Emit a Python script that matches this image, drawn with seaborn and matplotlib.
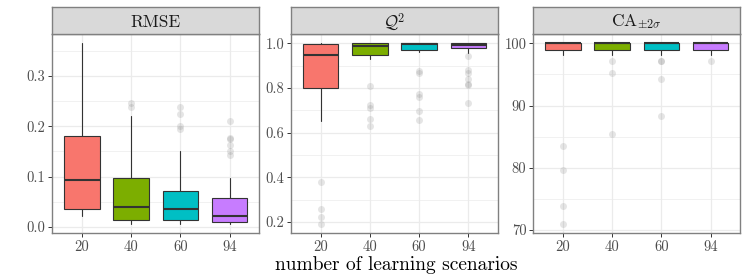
import numpy as np
import pandas as pd
import matplotlib
matplotlib.use("Agg")
import matplotlib.pyplot as plt
import seaborn as sns

# ---------------- data ----------------
categories = ["20", "40", "60", "94"]
palette = ["#F8766D", "#7CAE00", "#00BFC4", "#C77CFF"]

rmse_lo = [0.021, 0.005, 0.006, 0.005]
rmse_q1 = [0.035, 0.013, 0.013, 0.009]
rmse_med = [0.094, 0.040, 0.035, 0.021]
rmse_q3 = [0.181, 0.097, 0.071, 0.058]
rmse_hi = [0.365, 0.220, 0.151, 0.097]
rmse_out = {"20": [], "40": [0.238, 0.247],
            "60": [0.194, 0.201, 0.224, 0.239],
            "94": [0.143, 0.150, 0.162, 0.174, 0.176, 0.210]}

q2_lo = [0.653, 0.928, 0.960, 0.958]
q2_q1 = [0.801, 0.946, 0.970, 0.981]
q2_med = [0.948, 0.990, 0.997, 0.993]
q2_q3 = [0.996, 1.000, 1.000, 1.000]
q2_hi = [1.000, 1.000, 1.000, 1.000]
q2_out = {"20": [0.378, 0.258, 0.222, 0.190],
          "40": [0.809, 0.722, 0.710, 0.660, 0.632],
          "60": [0.876, 0.865, 0.774, 0.758, 0.696, 0.656],
          "94": [0.943, 0.879, 0.867, 0.842, 0.818, 0.812, 0.735]}

ca_lo = [98.2, 98.2, 98.2, 98.2]
ca_q1 = [99.0, 99.0, 99.0, 99.0]
ca_med = [100.0, 100.0, 100.0, 100.0]
ca_q3 = [100.0, 100.0, 100.0, 100.0]
ca_hi = [100.0, 100.0, 100.0, 100.0]
ca_out = {"20": [83.5, 79.6, 73.8, 70.9],
          "40": [97.1, 95.2, 85.4],
          "60": [97.1, 97.1, 94.2, 88.3],
          "94": [97.1]}

titles = ["RMSE", r"$\mathcal{Q}^2$", r"CA$_{\pm 2\sigma}$"]
yticks = [[0.0, 0.1, 0.2, 0.3], [0.2, 0.4, 0.6, 0.8, 1.0], [70, 80, 90, 100]]
yticklabels = [["0.0", "0.1", "0.2", "0.3"],
               ["0.2", "0.4", "0.6", "0.8", "1.0"],
               ["70", "80", "90", "100"]]
yminor = [[0.05, 0.15, 0.25, 0.35], [0.3, 0.5, 0.7, 0.9], [75, 85, 95]]
xlabel = "number of learning scenarios"

panels = [
    (rmse_lo, rmse_q1, rmse_med, rmse_q3, rmse_hi, rmse_out),
    (q2_lo, q2_q1, q2_med, q2_q3, q2_hi, q2_out),
    (ca_lo, ca_q1, ca_med, ca_q3, ca_hi, ca_out),
]

# ---------------- style ----------------
sns.set_theme(style="white")
plt.rcParams["font.family"] = ["cmr10", "DejaVu Serif"]
plt.rcParams["mathtext.fontset"] = "cm"
plt.rcParams["axes.unicode_minus"] = False

W, H = 747, 280
fig = plt.figure(figsize=(W / 100, H / 100), dpi=100)

lefts = [52.3, 291.0, 533.3]
pw = 207.0
top_px, bot_px, strip_top = 34.3, 233.3, 7.0
border = "#333333"
grid_c = "#EBEBEB"

for i, (lo, q1, med, q3, hi, out) in enumerate(panels):
    ax = fig.add_axes([lefts[i] / W, 1 - bot_px / H, pw / W, (bot_px - top_px) / H])
    sax = fig.add_axes([lefts[i] / W, 1 - top_px / H, pw / W, (top_px - strip_top) / H])

    # outliers through seaborn's categorical axis
    odf = pd.DataFrame([(c, v) for c in categories for v in out[c]],
                       columns=["n", "value"])
    sns.stripplot(data=odf, x="n", y="value", order=categories, jitter=False,
                  color="#7f7f7f", alpha=0.2, size=5, linewidth=0, ax=ax,
                  zorder=3)

    stats = [dict(whislo=lo[k], q1=q1[k], med=med[k], q3=q3[k], whishi=hi[k],
                  fliers=[], label=categories[k]) for k in range(len(categories))]
    bp = ax.bxp(stats, positions=range(len(categories)), widths=0.72,
                showfliers=False, patch_artist=True, showcaps=False,
                boxprops=dict(edgecolor=border, linewidth=0.8),
                medianprops=dict(color=border, linewidth=1.5),
                whiskerprops=dict(color=border, linewidth=0.8),
                manage_ticks=False, zorder=2)
    for patch, col in zip(bp["boxes"], palette):
        patch.set_facecolor(col)

    allv = lo + hi + [v for c in categories for v in out[c]]
    vmin, vmax = min(allv), max(allv)
    pad = 0.05 * (vmax - vmin)
    ax.set_ylim(vmin - pad, vmax + pad)
    ax.set_xlim(-0.6, len(categories) - 0.4)

    ax.set_yticks(yticks[i])
    ax.set_yticklabels(yticklabels[i])
    ax.set_yticks(yminor[i], minor=True)
    ax.set_xticks(range(len(categories)))
    ax.set_xticklabels(categories)
    ax.set_facecolor("white")
    ax.grid(True, which="major", color=grid_c, linewidth=0.9, zorder=0)
    ax.grid(True, which="minor", axis="y", color=grid_c, linewidth=0.5, zorder=0)
    ax.set_axisbelow(True)
    ax.tick_params(axis="both", which="major", length=3, width=0.7,
                   color=border, labelcolor="#4D4D4D", labelsize=10.5, pad=2,
                   left=True, bottom=True)
    ax.tick_params(axis="y", which="minor", length=0)
    ax.set_xlabel("")
    ax.set_ylabel("")
    for s in ax.spines.values():
        s.set_visible(True)
        s.set_color("#808080")
        s.set_linewidth(1.0)

    sax.set_facecolor("#D9D9D9")
    sax.set_xticks([])
    sax.set_yticks([])
    for s in sax.spines.values():
        s.set_visible(True)
        s.set_color("#808080")
        s.set_linewidth(1.0)
    sax.text(0.5, 0.45, titles[i], transform=sax.transAxes, ha="center",
             va="center", fontsize=12.5, color="#1A1A1A")

fig.text((52.3 + 740.3) / 2 / W, 1 - 265 / H, xlabel, ha="center", va="center",
         fontsize=14, color="black")

fig.savefig("out.png", dpi=100)
